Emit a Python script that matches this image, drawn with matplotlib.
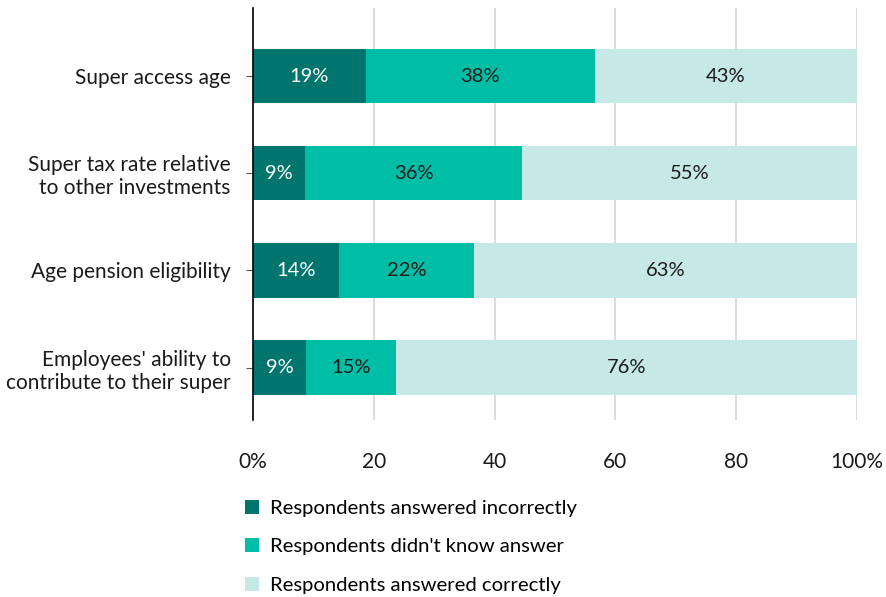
import matplotlib
matplotlib.use('Agg')
import matplotlib.pyplot as plt
from matplotlib.patches import Patch

plt.rcParams['font.family'] = ['Lato', 'DejaVu Sans']

# Survey results: share of respondents per question (%)
questions = ['Super access age',
             'Super tax rate relative\nto other investments',
             'Age pension eligibility',
             "Employees' ability to\ncontribute to their super"]
incorrect = [18.7, 8.6, 14.2, 8.8]
dont_know = [37.9, 36.0, 22.4, 14.9]
correct = [43.4, 55.4, 63.4, 76.3]

series_names = ['Respondents answered incorrectly',
                "Respondents didn't know answer",
                'Respondents answered correctly']
colors = ['#00756D', '#00BEA6', '#C6E8E6']
text_colors = ['white', '#1a1a1a', '#1a1a1a']
xticks = [0, 20, 40, 60, 80, 100]
xtick_labels = ['0%', '20', '40', '60', '80', '100%']

fig = plt.figure(figsize=(8.87, 5.97), dpi=100)
ax = fig.add_axes([0.2852, 0.2965, 0.681, 0.690])

ypos = list(range(len(questions)))
left = [0.0] * len(questions)
for vals, col, tcol in zip([incorrect, dont_know, correct], colors, text_colors):
    bars = ax.barh(ypos, vals, left=left, height=0.56, color=col, zorder=3)
    for b, v in zip(bars, vals):
        ax.text(b.get_x() + b.get_width() / 2, b.get_y() + b.get_height() / 2,
                f'{v:.0f}%', ha='center', va='center', color=tcol, fontsize=14.5, zorder=4)
    left = [l + v for l, v in zip(left, vals)]

ax.set_xlim(0, 100)
ax.set_ylim(3.54, -0.70)
ax.set_yticks(ypos)
ax.set_yticklabels(questions, fontsize=15, ha='right', color='#1a1a1a')
ax.set_xticks(xticks)
ax.set_xticklabels(xtick_labels, fontsize=15, color='#1a1a1a')
ax.tick_params(axis='x', length=0, pad=23)
ax.tick_params(axis='y', length=5, color='#555555', pad=11)

ax.grid(axis='x', color='#d9d9d9', lw=1.3, zorder=0)
for s in ['top', 'right', 'bottom']:
    ax.spines[s].set_visible(False)
ax.spines['left'].set_color('black')
ax.spines['left'].set_linewidth(1.2)
ax.spines['left'].set_zorder(5)

handles = [Patch(facecolor=c, edgecolor='none') for c in colors]
fig.legend(handles, series_names, loc='upper left', bbox_to_anchor=(0.276, 0.163),
           frameon=False, fontsize=14.6, handlelength=0.7, handleheight=0.7,
           handletextpad=0.55, labelspacing=1.05, borderaxespad=0, borderpad=0)

fig.savefig('out.png', dpi=100)
